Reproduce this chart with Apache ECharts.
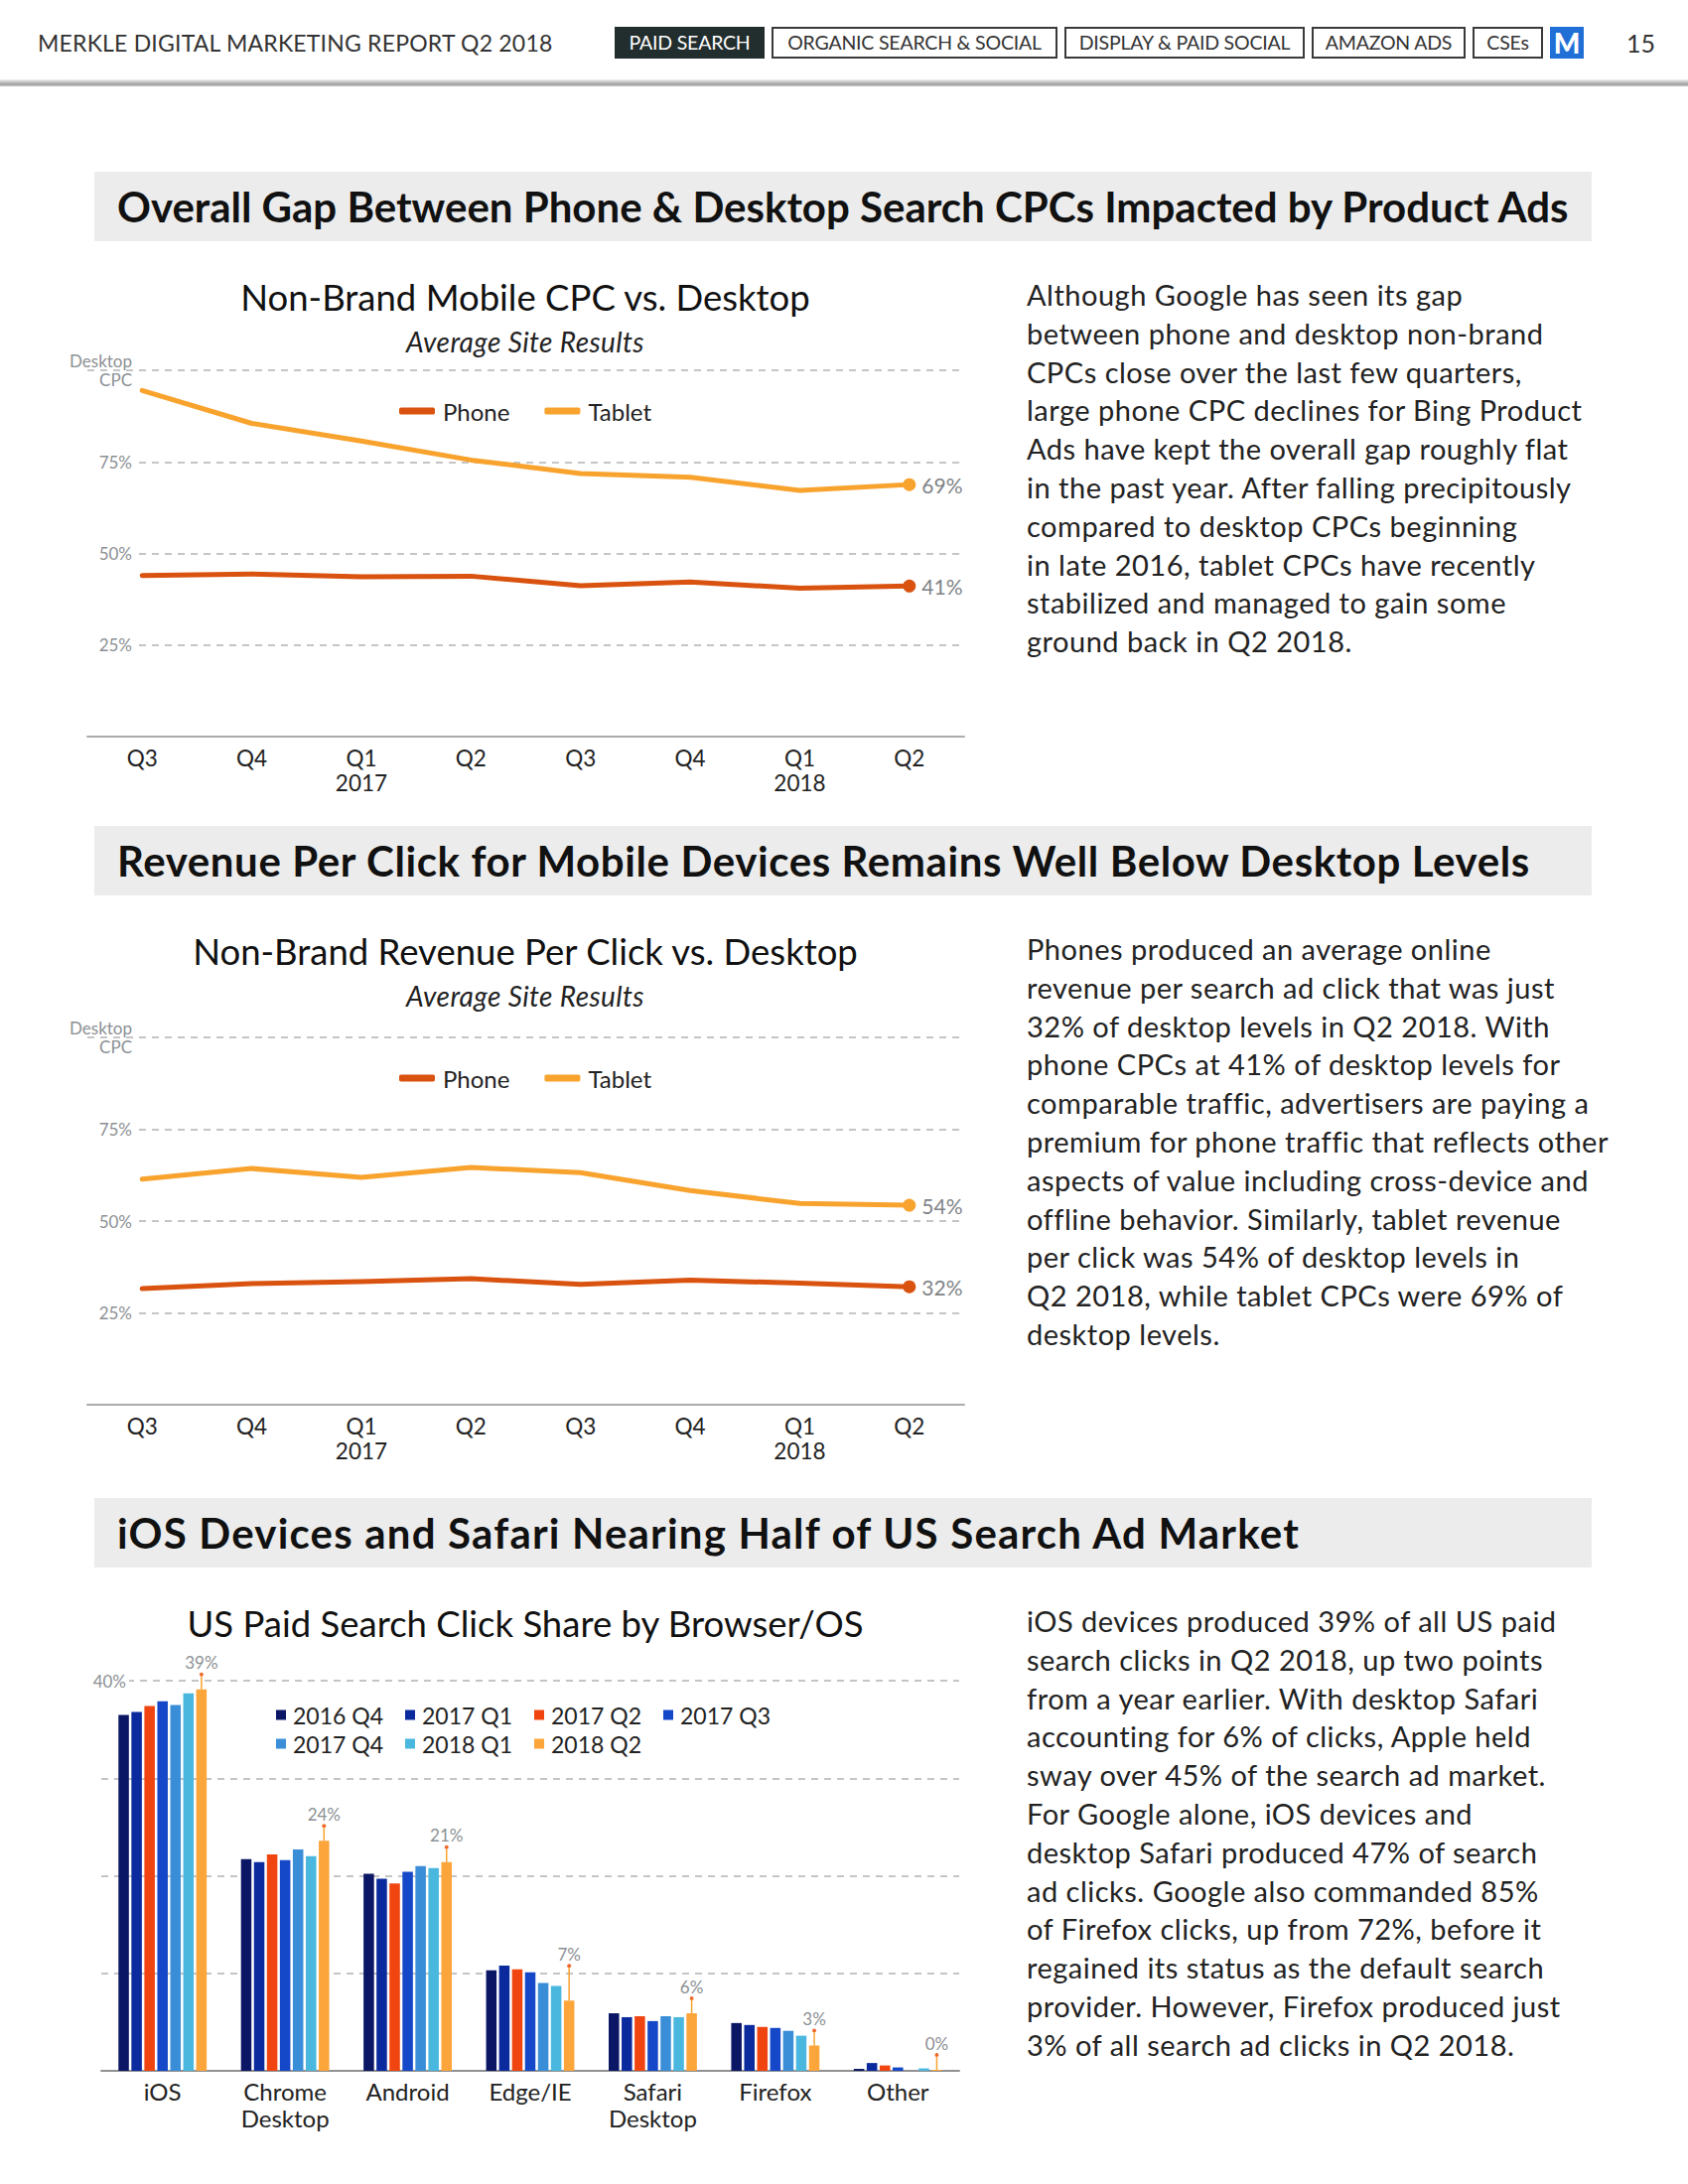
<!DOCTYPE html>
<html><head><meta charset="utf-8">
<script src="https://cdn.jsdelivr.net/npm/echarts@6/dist/echarts.min.js"></script>
<style>
html,body{margin:0;padding:0;background:#fff;}
body{width:1700px;height:2200px;position:relative;overflow:hidden;font-family:Lato,"Open Sans",sans-serif;color:#222;}
#chart{position:absolute;left:0;top:0;width:1700px;height:2200px;}
.a{position:absolute;white-space:nowrap;z-index:2;}
.c{transform:translate(-50%,-50%);}
.tab{position:absolute;top:27px;height:28px;border:2px solid #3a3a3a;font-size:19.5px;line-height:28px;text-align:center;color:#333;letter-spacing:-0.2px;z-index:2;white-space:nowrap;}
.bar{position:absolute;left:95px;width:1508px;height:70px;background:#ececec;z-index:1;}
.bar span{position:absolute;left:23px;top:0;line-height:70px;font-size:42px;font-weight:700;color:#111;letter-spacing:0px;white-space:nowrap;}
.p{position:absolute;left:1034px;font-size:29px;line-height:38.8px;letter-spacing:0.5px;color:#222;white-space:nowrap;z-index:2;}
.ct{font-size:36.5px;color:#111;}
.st{font-size:28px;font-style:italic;color:#222;letter-spacing:0.4px;}
</style></head>
<body>
<div class="a" style="left:38px;top:29px;font-size:23px;line-height:28px;color:#333;letter-spacing:0.2px;">MERKLE DIGITAL MARKETING REPORT Q2 2018</div>
<div class="tab" style="left:619px;width:147px;background:#222d2d;color:#fff;border-color:#222d2d;">PAID SEARCH</div>
<div class="tab" style="left:777px;width:284px;">ORGANIC SEARCH &amp; SOCIAL</div>
<div class="tab" style="left:1072px;width:238px;">DISPLAY &amp; PAID SOCIAL</div>
<div class="tab" style="left:1321px;width:151px;">AMAZON ADS</div>
<div class="tab" style="left:1483px;width:67px;">CSEs</div>
<div class="a" style="left:1561px;top:27px;width:34px;height:32px;background:#1f6fd6;color:#fff;font-weight:900;font-size:28px;line-height:32px;text-align:center;">M</div>
<div class="a" style="left:1638px;top:29px;font-size:25px;line-height:28px;color:#333;">15</div>
<div class="a" style="left:0;top:80px;width:1700px;height:7px;background:linear-gradient(#f0f0f0,#a0a0a0 70%,#c8c8c8);"></div>

<div class="bar" style="top:173px;"><span>Overall Gap Between Phone &amp; Desktop Search CPCs Impacted by Product Ads</span></div>
<div class="bar" style="top:832px;"><span style="letter-spacing:0.6px;">Revenue Per Click for Mobile Devices Remains Well Below Desktop Levels</span></div>
<div class="bar" style="top:1509px;"><span style="letter-spacing:1.2px;">iOS Devices and Safari Nearing Half of US Search Ad Market</span></div>

<div class="a c ct" style="left:529px;top:299px;">Non-Brand Mobile CPC vs. Desktop</div>
<div class="a c st" style="left:529px;top:344px;">Average Site Results</div>
<div class="a c ct" style="left:529px;top:958px;">Non-Brand Revenue Per Click vs. Desktop</div>
<div class="a c st" style="left:529px;top:1003px;">Average Site Results</div>
<div class="a c ct" style="left:529px;top:1635px;">US Paid Search Click Share by Browser/OS</div>

<div class="p" style="top:278px;">Although Google has seen its gap<br>between phone and desktop non-brand<br>CPCs close over the last few quarters,<br>large phone CPC declines for Bing Product<br>Ads have kept the overall gap roughly flat<br>in the past year. After falling precipitously<br>compared to desktop CPCs beginning<br>in late 2016, tablet CPCs have recently<br>stabilized and managed to gain some<br>ground back in Q2 2018.</div>
<div class="p" style="top:937px;">Phones produced an average online<br>revenue per search ad click that was just<br>32% of desktop levels in Q2 2018. With<br>phone CPCs at 41% of desktop levels for<br>comparable traffic, advertisers are paying a<br>premium for phone traffic that reflects other<br>aspects of value including cross-device and<br>offline behavior. Similarly, tablet revenue<br>per click was 54% of desktop levels in<br>Q2 2018, while tablet CPCs were 69% of<br>desktop levels.</div>
<div class="p" style="top:1614px;">iOS devices produced 39% of all US paid<br>search clicks in Q2 2018, up two points<br>from a year earlier. With desktop Safari<br>accounting for 6% of clicks, Apple held<br>sway over 45% of the search ad market.<br>For Google alone, iOS devices and<br>desktop Safari produced 47% of search<br>ad clicks. Google also commanded 85%<br>of Firefox clicks, up from 72%, before it<br>regained its status as the default search<br>provider. However, Firefox produced just<br>3% of all search ad clicks in Q2 2018.</div>

<div id="chart"></div>
<script>
// ---- data ----
const quarters = ['Q3', 'Q4', 'Q1\n2017', 'Q2', 'Q3', 'Q4', 'Q1\n2018', 'Q2'];
const cpcPhone  = [44.0, 44.4, 43.6, 43.8, 41.2, 42.2, 40.5, 41.1];
const cpcTablet = [94.5, 85.5, 80.7, 75.5, 71.8, 70.8, 67.2, 68.8];
const rpcPhone  = [31.6, 33.0, 33.5, 34.3, 32.8, 33.9, 33.1, 32.1];
const rpcTablet = [61.4, 64.3, 61.9, 64.6, 63.2, 58.3, 54.8, 54.3];
const lineTicks = [0, 25, 50, 75, 100];

const browsers = ['iOS', 'Chrome\nDesktop', 'Android', 'Edge/IE', 'Safari\nDesktop', 'Firefox', 'Other'];
const periods = ['2016 Q4', '2017 Q1', '2017 Q2', '2017 Q3', '2017 Q4', '2018 Q1', '2018 Q2'];
const share2016Q4 = [36.5, 21.7, 20.2, 10.3, 5.9, 4.9, 0.2];
const share2017Q1 = [36.8, 21.4, 19.7, 10.8, 5.5, 4.7, 0.8];
const share2017Q2 = [37.4, 22.2, 19.2, 10.4, 5.6, 4.5, 0.55];
const share2017Q3 = [37.9, 21.6, 20.4, 10.1, 5.1, 4.4, 0.35];
const share2017Q4 = [37.5, 22.7, 21.0, 9.0, 5.6, 4.1, 0];
const share2018Q1 = [38.7, 22.0, 20.8, 8.7, 5.5, 3.6, 0.25];
const share2018Q2 = [39.1, 23.6, 21.4, 7.2, 5.9, 2.6, 0.1];
const shareSeries = [share2016Q4, share2017Q1, share2017Q2, share2017Q3, share2017Q4, share2018Q1, share2018Q2];

// ---- styles ----
const FONT = 'Lato';
const PHONE = '#d9520f', TABLET = '#f8a32e';
const barColors = ['#0b1664', '#0a2a9e', '#f04510', '#1448c8', '#3a8ed8', '#4ab8de', '#fba53a'];
const gridDash = { color: '#b3b3b3', width: 1.5, type: [7, 6] };
const maskRich = { b: { fontFamily: FONT, fontSize: 17, lineHeight: 19, color: '#8c9094', backgroundColor: '#fff', padding: [0, 3, 0, 12] } };

function lineX(i) {
  return { type: 'category', gridIndex: i, data: quarters, boundaryGap: true,
    axisLine: { lineStyle: { color: '#a9abad', width: 2 } }, axisTick: { show: false },
    axisLabel: { fontFamily: FONT, fontSize: 22.5, lineHeight: 25, color: '#222', margin: 9 } };
}
function lineY(i) {
  return { type: 'value', gridIndex: i, min: lineTicks[0], max: lineTicks[lineTicks.length - 1], interval: 25,
    offset: -56, axisLine: { show: false }, axisTick: { show: false },
    splitLine: { lineStyle: gridDash },
    axisLabel: { fontFamily: FONT, fontSize: 17, lineHeight: 19, color: '#8c9094', margin: 8, rich: maskRich,
      formatter: v => v === 100 ? '{b|Desktop}\n{b|CPC}' : (v === 0 ? '' : '{b|' + v + '%}') } };
}
function lineSeries(name, vals, color, i) {
  const last = vals.length - 1;
  return { type: 'line', name, xAxisIndex: i, yAxisIndex: i, symbol: 'none', silent: true,
    data: vals.map((v, k) => k === last ? { value: v, symbol: 'circle', symbolSize: 13, label: { show: true } } : { value: v }),
    lineStyle: { width: 5, color, cap: 'round', join: 'round' }, itemStyle: { color },
    label: { show: false, position: 'right', distance: 6, color: '#7f8387', fontSize: 21, fontFamily: FONT,
      formatter: p => Math.round(p.value) + '%' },
    emphasis: { disabled: true } };
}
function lineLegend(top) {
  return { data: ['Phone', 'Tablet'], left: 397, top, icon: 'roundRect', itemWidth: 36, itemHeight: 7, itemGap: 35,
    textStyle: { fontFamily: FONT, fontSize: 24, color: '#222', padding: [0, 0, 0, 3] }, selectedMode: false };
}
function barLegend(names, top) {
  return { data: names, left: 273, top, icon: 'rect', itemWidth: 10, itemHeight: 10, itemGap: 22,
    textStyle: { fontFamily: FONT, fontSize: 23, color: '#222', padding: [0, 0, 0, 2] }, selectedMode: false };
}

const barSeries = periods.map((name, k) => {
  const s = { type: 'bar', name, xAxisIndex: 2, yAxisIndex: 2, data: shareSeries[k], silent: true,
    itemStyle: { color: barColors[k] }, barGap: '24%', barCategoryGap: '28%' };
  if (k === periods.length - 1) {
    s.label = { show: true, position: 'top', distance: 0,
      formatter: p => '{v|' + Math.round(p.value) + '%}\n{d|}\n' + (p.dataIndex === 3 ? '{L|}' : '{l|}'),
      rich: {
        v: { fontFamily: FONT, fontSize: 17, color: '#8c9094', lineHeight: 20, align: 'center' },
        d: { width: 4, height: 4, lineHeight: 4, borderRadius: 2, backgroundColor: '#f06a2a', align: 'center' },
        l: { width: 1.5, height: 13, lineHeight: 13, backgroundColor: '#f8a32e', align: 'center' },
        L: { width: 1.5, height: 33, lineHeight: 33, backgroundColor: '#f8a32e', align: 'center' }
      } };
  }
  return s;
});

const option = {
  animation: false,
  grid: [
    { left: 88, top: 373, width: 883, height: 369 },
    { left: 88, top: 1045, width: 883, height: 370 },
    { left: 102, top: 1693, width: 864, height: 393 }
  ],
  legend: [
    lineLegend(397),
    lineLegend(1069),
    barLegend(periods.slice(0, 4), 1711),
    barLegend(periods.slice(4), 1740)
  ],
  xAxis: [
    lineX(0), lineX(1),
    { type: 'category', gridIndex: 2, data: browsers,
      axisLine: { lineStyle: { color: '#8f9193', width: 2 } }, axisTick: { show: false },
      axisLabel: { fontFamily: FONT, fontSize: 24, lineHeight: 27, color: '#222', margin: 7, interval: 0 } }
  ],
  yAxis: [
    lineY(0), lineY(1),
    { type: 'value', gridIndex: 2, min: 0, max: 40, interval: 10, offset: -36,
      axisLine: { show: false }, axisTick: { show: false }, splitLine: { lineStyle: gridDash },
      axisLabel: { fontFamily: FONT, fontSize: 17, color: '#8c9094', margin: 8, rich: maskRich,
        formatter: v => v === 40 ? '{b|40%}' : '' } }
  ],
  series: [
    lineSeries('Phone', cpcPhone, PHONE, 0),
    lineSeries('Tablet', cpcTablet, TABLET, 0),
    lineSeries('Phone', rpcPhone, PHONE, 1),
    lineSeries('Tablet', rpcTablet, TABLET, 1),
    ...barSeries
  ]
};
const chart = echarts.init(document.getElementById('chart'), null, { renderer: 'svg' });
chart.setOption(option);
</script>
</body></html>
